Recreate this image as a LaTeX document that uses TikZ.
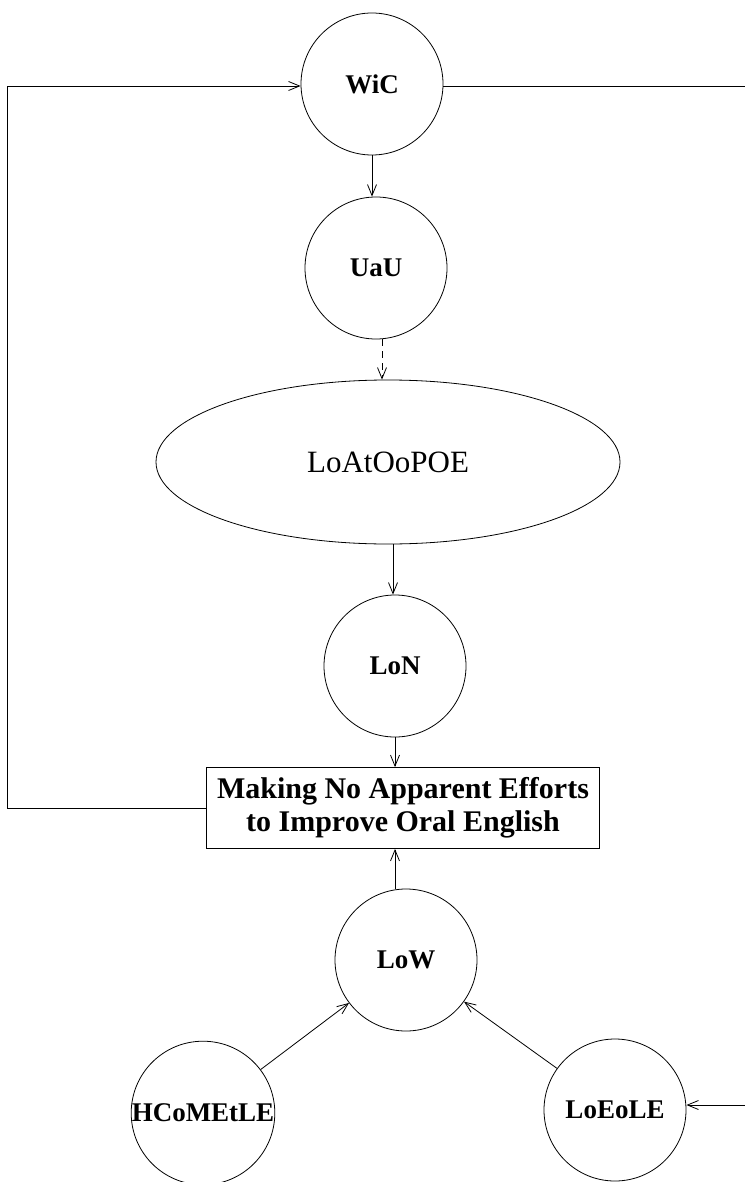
\documentclass[tikz,border=0pt]{standalone}
\usepackage{fontspec}
\setmainfont{Liberation Serif}
\usetikzlibrary{arrows.meta,shapes.geometric}
\begin{document}
\begin{tikzpicture}[x=1pt,y=1pt,
  circ/.style={draw, line width=0.8pt, circle, minimum size=142pt, inner sep=0pt,
    font=\fontsize{27}{30}\selectfont\bfseries},
  ellnode/.style={draw, line width=0.8pt, ellipse, minimum width=464pt, minimum height=164pt,
    inner sep=0pt, font=\fontsize{31}{34}\selectfont},
  boxnode/.style={draw, line width=0.8pt, rectangle, minimum width=393pt, minimum height=81pt,
    inner sep=0pt, align=center, font=\fontsize{30}{33}\selectfont\bfseries},
  conn/.style={draw, line width=0.8pt, -{Straight Barb[length=11pt,width=9pt]}}
]
\useasboundingbox (0,0) rectangle (744,-1182);
\fill[white] (0,0) rectangle (744,-1182);

\node[circ] (WiC) at (372,-84) {WiC};
\node[circ] (UaU) at (376,-268) {UaU};
\node[ellnode] (ell) at (388,-462) {LoAtOoPOE};
\node[circ] (LoN) at (395,-666) {LoN};
\node[boxnode] (box) at (403,-808) {Making No Apparent Efforts\\to Improve Oral English};
\node[circ] (LoW) at (406,-960) {LoW};
\node[circ] (HC) at (203,-1113) {HCoMEtLE};
\node[circ] (LoE) at (615,-1110) {LoEoLE};

\draw[conn] (WiC.south) -- (WiC.south |- UaU.north);
\draw[conn, dash pattern=on 7pt off 5pt] ([xshift=6pt]UaU.south) -- ([xshift=6pt]UaU.south |- ell.north);
\draw[conn] ([xshift=5pt]ell.south) -- ([xshift=5pt]ell.south |- LoN.north);
\draw[conn] (LoN.south) -- (LoN.south |- box.north);
\draw[conn] ([xshift=-11pt]LoW.north) -- ([xshift=-11pt]LoW.north |- box.south);
\draw[conn] (HC) -- (LoW);
\draw[conn] (LoE) -- (LoW);
\draw[conn] (box.west) -- ++(-199,0) |- ([yshift=-2pt]WiC.west);
\draw[conn] ([yshift=-2pt]WiC.east) -- (770,-86) |- ([yshift=5pt]LoE.east);
\end{tikzpicture}
\end{document}
